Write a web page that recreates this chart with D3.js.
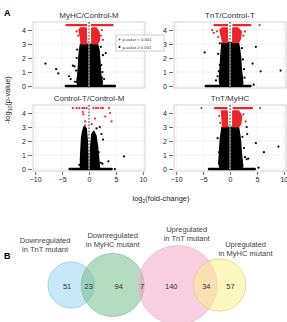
<!DOCTYPE html>
<html>
<head>
<meta charset="utf-8">
<script src="https://cdn.jsdelivr.net/npm/d3@7"></script>
<style>
  body { margin: 0; background: #fff; }
  text { font-family: "Liberation Sans", Arial, sans-serif; }
</style>
</head>
<body>
<div id="chart"></div>
<script>
//volcano data: [log2 fold-change, -log10 p-value]
var xTicks = [-10, -5, 0, 5, 10];
var yTicks = [0, 1, 2, 3, 4];
var capY = 4.35;

var myhcBase = [-4.3, 4.8];
var myhcTop = [[-4.2, -0.5], [0.5, 4.4]];
var myhcCore = [[-2.0, 0], [-2.3, 0.3], [-2.1, 0.8], [-2.0, 1.4], [-1.9, 2.0], [-1.8, 2.5], [-1.6, 3.0],
  [1.6, 3.0], [1.9, 2.5], [2.0, 2.0], [2.1, 1.4], [2.2, 0.8], [2.5, 0.3], [2.4, 0]];
var myhcRedL = [[-1.5, 3.0], [-1.6, 3.5], [-1.9, 4.0], [-1.6, 4.15], [-0.5, 4.15], [-0.4, 3.0]];
var myhcRedR = [[0.5, 3.0], [0.5, 4.15], [1.4, 4.15], [1.9, 3.8], [2.0, 3.3], [1.6, 3.0]];
var myhcRedPts = [[-2.3, 3.9], [-2.0, 3.6], [2.2, 3.6], [2.6, 3.3], [2.4, 4.0]];
var myhcBlack = [[-8.1, 1.6], [-6.1, 1.2], [-5.7, 0.9], [-3.7, 0.7], [-3.4, 0.5], [-3.0, 1.45], [-2.7, 1.4],
  [-2.0, 0.6], [-2.6, 0.3], [3.1, 2.35], [2.6, 2.2], [2.3, 1.5], [2.5, 1.0], [2.8, 0.5], [-2.3, 2.0],
  [-2.2, 2.6], [2.2, 2.8], [-2.4, 1.1], [2.4, 0.6]];

var tntBase = [-4.5, 3.8];
var tntTop = [[-2.9, -0.5], [0.6, 3.8]];
var tntCore = [[-1.8, 0], [-2.0, 0.4], [-1.9, 1.0], [-1.8, 1.6], [-1.7, 2.2], [-1.6, 2.7], [-1.5, 3.1],
  [1.6, 3.1], [1.8, 2.6], [2.0, 2.0], [2.1, 1.3], [2.3, 0.6], [2.4, 0.2], [2.2, 0]];
var tntRedL = [[-1.4, 3.1], [-1.6, 3.5], [-1.9, 4.0], [-1.5, 4.15], [-0.5, 4.15], [-0.4, 3.1]];
var tntRedR = [[0.5, 3.1], [0.5, 4.15], [1.5, 4.15], [2.1, 3.9], [2.0, 3.4], [1.6, 3.1]];
var tntRedPts = [[-3.3, 4.0], [-3.0, 3.8], [-2.4, 3.9], [2.8, 3.9], [2.5, 3.6], [5.5, 4.35], [-2.2, 3.5]];
var tntBlack = [[-4.7, 2.4], [-1.9, 3.05], [-1.9, 1.5], [-2.1, 1.05], [-2.3, 0.7], [-2.6, 0.4], [4.8, 2.8],
  [4.2, 1.6], [5.7, 1.05], [9.4, 1.1], [4.4, 0.1], [2.4, 1.9], [2.6, 1.2], [2.7, 0.6], [-2.2, 2.3], [2.2, 2.7]];

var ctlBase = [-3.6, 4.2];
var ctlCoreL = [[-1.6, 0], [-1.6, 0.7], [-1.5, 1.5], [-1.4, 2.2], [-1.2, 2.7], [-0.9, 3.05], [-0.5, 2.9],
  [-0.3, 2.0], [-0.15, 1.0], [-0.1, 0]];
var ctlCoreR = [[0.15, 0], [0.2, 1.0], [0.35, 1.8], [0.5, 2.5], [0.9, 2.7], [1.3, 2.4], [1.6, 1.6],
  [1.8, 0.8], [2.0, 0]];
var ctlRedPts = [[-3.0, 4.35], [-2.3, 4.35], [-1.8, 4.35], [-1.25, 4.35], [-0.9, 4.35], [-0.45, 4.35],
  [0.8, 4.35], [1.3, 4.35], [1.7, 4.35], [2.2, 4.35], [2.6, 4.35], [3.7, 4.35],
  [-1.15, 4.07], [-1.05, 3.9], [-0.7, 3.4], [-0.7, 3.1], [1.1, 3.6], [0.5, 3.2], [3.9, 4.0], [4.2, 3.4], [3.0, 3.75]];
var ctlBlack = [[1.4, 2.9], [2.0, 3.0], [2.6, 2.1], [2.3, 2.5], [6.5, 0.9], [3.6, 0.55], [2.5, 0.38],
  [2.2, 0.45], [-1.3, 0.5], [4.8, 0], [1.8, 1.2], [-1.8, 0.3]];

var tmBase = [-3.9, 4.6];
var tmTop = [[-2.8, -0.6], [0.65, 4.1]];
var tmCore = [[-1.8, 0], [-2.1, 0.4], [-2.0, 1.0], [-1.9, 1.6], [-1.8, 2.2], [-1.6, 2.7], [-1.5, 3.0],
  [1.6, 3.0], [1.8, 2.5], [2.0, 1.9], [2.1, 1.2], [2.3, 0.5], [2.4, 0.2], [2.2, 0]];
var tmRedL = [[-1.4, 3.0], [-1.5, 3.6], [-1.6, 4.15], [-0.5, 4.15], [-0.4, 3.0]];
var tmRedR = [[0.5, 3.0], [0.5, 4.15], [1.6, 4.15], [2.2, 3.8], [2.0, 3.2], [1.6, 3.0]];
var tmRedPts = [[-5.3, 4.35], [5.6, 4.35], [2.9, 3.4], [-2.0, 3.8], [2.5, 3.9], [-1.8, 3.3]];
var tmBlack = [[3.1, 3.0], [3.2, 2.5], [4.8, 1.85], [9.0, 1.6], [6.3, 1.2], [2.8, 0.85], [3.1, 0.7],
  [3.4, 0.75], [-1.6, 2.0], [-2.0, 1.2], [5.3, 0.1], [2.6, 1.5], [-2.3, 2.2], [2.3, 2.3]];

//venn data
var vennNames = [["Downregulated", "in TnT mutant"], ["Downregulated", "in MyHC mutant"],
  ["Upregulated", "in TnT mutant"], ["Upregulated", "in MyHC mutant"]];
var vennOnly = [51, 94, 140, 57];
var vennShared = [23, 7, 34];

var font = "Liberation Sans, Arial, sans-serif";
var svg = d3.select("#chart").append("svg")
    .attr("width", 287)
    .attr("height", 322);

var panels = [
  {title: "MyHC/Control-M", x: [33, 145], y: [88, 22], base: myhcBase, top: myhcTop, core: [myhcCore],
    red: [myhcRedL, myhcRedR], redPts: myhcRedPts, black: myhcBlack, xaxis: false},
  {title: "TnT/Control-T", x: [174, 286], y: [88, 22], base: tntBase, top: tntTop, core: [tntCore],
    red: [tntRedL, tntRedR], redPts: tntRedPts, black: tntBlack, xaxis: false},
  {title: "Control-T/Control-M", x: [33, 145], y: [171, 105], base: ctlBase, top: [], core: [ctlCoreL, ctlCoreR],
    red: [], redPts: ctlRedPts, black: ctlBlack, xaxis: true},
  {title: "TnT/MyHC", x: [174, 286], y: [171, 105], base: tmBase, top: tmTop, core: [tmCore],
    red: [tmRedL, tmRedR], redPts: tmRedPts, black: tmBlack, xaxis: true}
];

var red = "#e8262b";

panels.forEach(function(p) {
  var x = d3.scaleLinear().domain([-10.4, 10.4]).range(p.x);
  var y = d3.scaleLinear().domain([-0.14, 4.57]).range(p.y);
  var g = svg.append("g");
  var area = d3.line().x(d => x(d[0])).y(d => y(d[1])).curve(d3.curveLinearClosed);

  //grid
  g.selectAll(".gx").data(xTicks.filter(d => d !== 0)).join("line")
      .attr("x1", d => x(d)).attr("x2", d => x(d))
      .attr("y1", p.y[1]).attr("y2", p.y[0])
      .attr("stroke", "#ececec").attr("stroke-width", 0.7);
  g.selectAll(".gy").data(yTicks).join("line")
      .attr("x1", p.x[0]).attr("x2", p.x[1])
      .attr("y1", d => y(d)).attr("y2", d => y(d))
      .attr("stroke", "#ececec").attr("stroke-width", 0.7);
  g.append("rect")
      .attr("x", p.x[0]).attr("y", p.y[1])
      .attr("width", p.x[1] - p.x[0]).attr("height", p.y[0] - p.y[1])
      .attr("fill", "none").attr("stroke", "#c8c8c8").attr("stroke-width", 0.8);

  //dense cloud
  g.selectAll(".core").data(p.core).join("path")
      .attr("d", area)
      .attr("fill", "#000").attr("stroke", "#000").attr("stroke-width", 1.2)
      .attr("stroke-linejoin", "round");
  g.append("line")
      .attr("x1", x(p.base[0])).attr("x2", x(p.base[1]))
      .attr("y1", y(0)).attr("y2", y(0))
      .attr("stroke", "#000").attr("stroke-width", 2.4).attr("stroke-linecap", "round");
  g.selectAll(".bp").data(p.black).join("circle")
      .attr("cx", d => x(d[0])).attr("cy", d => y(d[1])).attr("r", 1.1)
      .attr("fill", "#000");

  //significant
  g.selectAll(".rc").data(p.red).join("path")
      .attr("d", area)
      .attr("fill", red).attr("stroke", red).attr("stroke-width", 1.1)
      .attr("stroke-linejoin", "round");
  g.selectAll(".tr").data(p.top).join("line")
      .attr("x1", d => x(d[0])).attr("x2", d => x(d[1]))
      .attr("y1", y(capY)).attr("y2", y(capY))
      .attr("stroke", red).attr("stroke-width", 2.2).attr("stroke-linecap", "round");
  g.selectAll(".rp").data(p.redPts).join("circle")
      .attr("cx", d => x(d[0])).attr("cy", d => y(d[1])).attr("r", 1.1)
      .attr("fill", red);

  //zero line
  g.append("line")
      .attr("x1", x(0)).attr("x2", x(0)).attr("y1", p.y[1]).attr("y2", p.y[0])
      .attr("stroke", "#fff").attr("stroke-width", 1);
  g.append("line")
      .attr("x1", x(0)).attr("x2", x(0)).attr("y1", p.y[1]).attr("y2", p.y[0])
      .attr("stroke", "#000").attr("stroke-width", 0.8).attr("stroke-dasharray", "1.8,1.4");

  //axes
  var ya = g.append("g")
      .attr("transform", "translate(" + (p.x[0] - 1) + ",0)")
      .call(d3.axisLeft(y).tickValues(yTicks).tickFormat(d3.format("d")).tickSize(4).tickPadding(2))
      .attr("font-size", 7).attr("font-family", font);
  ya.select(".domain").remove();
  ya.selectAll("line").attr("stroke", "#444").attr("stroke-width", 0.8);
  ya.selectAll("text").attr("fill", "#222");
  if (p.xaxis) {
    var xa = g.append("g")
        .attr("transform", "translate(0," + (p.y[0] + 1) + ")")
        .call(d3.axisBottom(x).tickValues(xTicks).tickFormat(d3.format("d")).tickSize(3).tickPadding(2))
        .attr("font-size", 7).attr("font-family", font);
    xa.select(".domain").remove();
    xa.selectAll("line").attr("stroke", "#444").attr("stroke-width", 0.8);
    xa.selectAll("text").attr("fill", "#222");
  }

  g.append("text")
      .attr("x", (p.x[0] + p.x[1]) / 2).attr("y", p.y[1] - 4)
      .attr("text-anchor", "middle").attr("font-size", 8).attr("fill", "#333")
      .text(p.title);
});

//legend
var lg = svg.append("g").attr("transform", "translate(116,35)");
lg.append("rect").attr("width", 48).attr("height", 16)
    .attr("fill", "#fff").attr("stroke", "#aaa").attr("stroke-width", 0.6);
var lgItems = [{c: red, t: "p-value < 0.001"}, {c: "#000", t: "p-value \u2265 0.001"}];
lgItems.forEach(function(d, i) {
  lg.append("circle").attr("cx", 3.5).attr("cy", 4.5 + i * 7.5).attr("r", 1).attr("fill", d.c);
  lg.append("text").attr("x", 6.5).attr("y", 6 + i * 7.5)
      .attr("font-size", 4.2).attr("fill", "#333").text(d.t);
});

//axis titles and panel letters
var yl = svg.append("text")
    .attr("transform", "translate(10,100) rotate(-90)")
    .attr("text-anchor", "middle").attr("font-size", 7.5).attr("fill", "#222");
yl.append("tspan").text("-log");
yl.append("tspan").attr("font-size", 5).attr("dy", 2).text("10");
yl.append("tspan").attr("dy", -2).text("(p-value)");

var xl = svg.append("text")
    .attr("x", 161).attr("y", 201)
    .attr("text-anchor", "middle").attr("font-size", 7.5).attr("fill", "#222");
xl.append("tspan").text("log");
xl.append("tspan").attr("font-size", 5).attr("dy", 2).text("2");
xl.append("tspan").attr("dy", -2).text("(fold-change)");

svg.append("text").attr("x", 4).attr("y", 16).attr("font-size", 9).attr("font-weight", "bold").text("A");
svg.append("text").attr("x", 4).attr("y", 259).attr("font-size", 9).attr("font-weight", "bold").text("B");

//venn
var totals = vennOnly.map(function(v, i) {
  return v + (i > 0 ? vennShared[i - 1] : 0) + (i < vennShared.length ? vennShared[i] : 0);
});
var r = d3.scalePow().exponent(0.6).domain([0, d3.max(totals)]).range([0, 39.5]);
var lens = d3.scaleLinear().domain([7, 23, 34]).range([6, 13, 23.7]);
var cy = 285;
var cx = [48 + r(totals[0])];
for (var i = 1; i < totals.length; i++) {
  cx.push(cx[i - 1] + r(totals[i - 1]) + r(totals[i]) - lens(vennShared[i - 1]));
}
var vennFill = ["#92d1f0", "#69b983", "#f0a0c4", "#fcf082"];
var vennStroke = ["#8ccbe6", "#8cc59e", "#efb6cf", "#e3d07e"];

svg.append("g").selectAll("circle").data(totals).join("circle")
    .attr("cx", (d, i) => cx[i]).attr("cy", cy).attr("r", d => r(d))
    .attr("fill", (d, i) => vennFill[i]).attr("fill-opacity", 0.5)
    .attr("stroke", (d, i) => vennStroke[i]).attr("stroke-width", 0.8);

var left = totals.map((d, i) => cx[i] - r(d));
var right = totals.map((d, i) => cx[i] + r(d));
var onlyX = vennOnly.map(function(d, i) {
  var a = i > 0 ? right[i - 1] : left[i];
  var b = i < totals.length - 1 ? left[i + 1] : right[i];
  return (a + b) / 2 + (i < 3 ? 2.5 : -1);
});
var sharedX = vennShared.map((d, i) => (right[i] + left[i + 1]) / 2 + 1);

var vt = svg.append("g").attr("font-size", 7.5).attr("fill", "#333").attr("text-anchor", "middle");
vt.selectAll(".o").data(vennOnly).join("text")
    .attr("x", (d, i) => onlyX[i]).attr("y", cy + 3.5).text(d => d);
vt.selectAll(".s").data(vennShared).join("text")
    .attr("x", (d, i) => sharedX[i]).attr("y", cy + 3.5).text(d => d);

var nameDx = [-26, 0, 9, 26];
var nameY = [242.5, 237.5, 231.5, 246.5];
vennNames.forEach(function(lines, i) {
  lines.forEach(function(t, j) {
    vt.append("text").attr("x", cx[i] + nameDx[i]).attr("y", nameY[i] + j * 9).attr("fill", "#444").text(t);
  });
});
</script>
</body>
</html>
